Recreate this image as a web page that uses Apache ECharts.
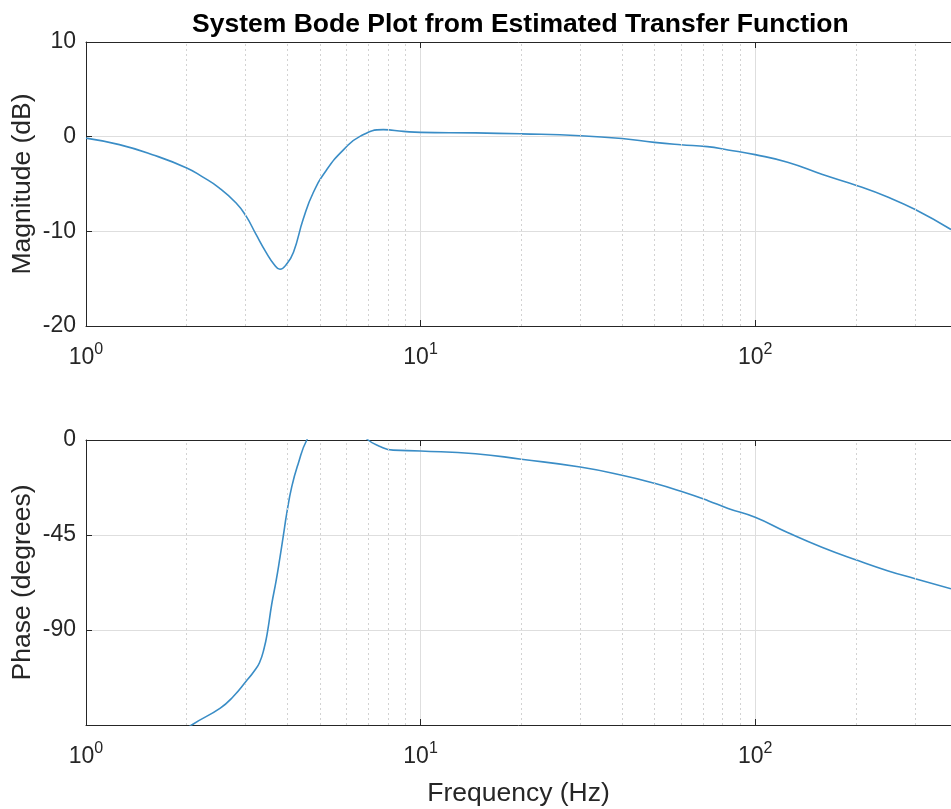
<!DOCTYPE html>
<html>
<head>
<meta charset="utf-8">
<script src="https://cdn.jsdelivr.net/npm/echarts@6/dist/echarts.min.js"></script>
<style>
  html, body { margin: 0; padding: 0; background: #fff; overflow: hidden; }
  #main { width: 951px; height: 809px; }
</style>
</head>
<body>
<div id="main"></div>
<script>
// magnitude response (Hz, dB)
var magFreq = [1, 1.258, 1.58, 2.0, 2.23, 2.5, 2.81, 3.01, 3.22, 3.45, 3.65, 3.8, 3.97, 4.17, 4.46, 4.78, 5.24, 5.88, 6.59, 7.74, 8.89, 10, 14.6, 20, 30, 40, 50, 60, 72, 83, 100, 125, 159, 203, 250, 301, 385];
var magDb = [-0.15, -0.84, -1.9, -3.3, -4.25, -5.4, -7.0, -8.4, -10.3, -12.2, -13.5, -14, -13.5, -12.2, -8.7, -5.9, -3.5, -1.4, 0.03, 0.74, 0.56, 0.45, 0.4, 0.3, 0.1, -0.2, -0.6, -0.85, -1.05, -1.4, -1.9, -2.7, -4.0, -5.2, -6.4, -7.7, -9.8];

// phase response (Hz, degrees)
var phaseFreq = [1.85, 2.07, 2.52, 2.76, 3.01, 3.18, 3.3, 3.41, 3.49, 3.59, 3.7, 3.8, 3.89, 3.98, 4.12, 4.31, 4.57, 5.0, 5.6, 6.3, 6.97, 7.5, 8.28, 10, 14.6, 20, 30, 40, 50, 60, 72, 83, 100, 125, 159, 203, 250, 301, 385];
var phaseDeg = [-141, -135, -127, -121.4, -114.3, -109.5, -105.5, -98.4, -90.5, -77.8, -66.7, -55.6, -45.2, -34.9, -22.2, -11.1, 0, 9, 12, 7, 0, -2.8, -4.8, -5.2, -6.5, -9.1, -12.8, -16.7, -20.5, -24.3, -28.6, -32.4, -36.6, -43.8, -50.9, -57.1, -62, -65.7, -70.5];

// minor log grid positions
var minorFreqs = [2, 3, 4, 5, 6, 7, 8, 9, 20, 30, 40, 50, 60, 70, 80, 90, 200, 300];

var magTicks = [-20, 10, 10];      // min, max, step
var phaseTicks = [-135, 0, 45];

var fontFam = "'Liberation Sans', Arial, Helvetica, sans-serif";
var txtColor = '#262626';
var lineColor = '#3a8dc6';

function pairs(xs, ys) {
    var out = [];
    for (var i = 0; i < xs.length; i++) out.push([xs[i], ys[i]]);
    return out;
}

function xAxisCfg(idx, withName) {
    var ax = {
        type: 'log',
        logBase: 10,
        gridIndex: idx,
        position: 'bottom',
        min: 1,
        max: 385,
        axisLine: { show: true, onZero: false, lineStyle: { color: txtColor, width: 1 } },
        axisTick: { show: true, inside: true, length: 6, lineStyle: { color: txtColor } },
        splitLine: { show: true, lineStyle: { color: '#dedede', width: 1 } },
        showMaxLabel: false,
        axisLabel: {
            margin: 16,
            color: txtColor,
            fontFamily: fontFam,
            formatter: function (v) {
                var e = Math.log10(v);
                if (Math.abs(e - Math.round(e)) > 1e-6) return '';
                return '{b|10}{e|' + Math.round(e) + '}';
            },
            rich: {
                b: { fontSize: 23, fontFamily: fontFam, color: txtColor },
                e: { fontSize: 16, fontFamily: fontFam, color: txtColor, padding: [0, 0, 16, 0] }
            }
        }
    };
    if (withName) {
        ax.name = 'Frequency (Hz)';
        ax.nameLocation = 'middle';
        ax.nameGap = 55;
        ax.nameTextStyle = { fontSize: 26.5, fontFamily: fontFam, color: txtColor };
    }
    return ax;
}

// box edge on top of each plot
function topAxisCfg(idx) {
    return {
        type: 'log',
        logBase: 10,
        gridIndex: idx,
        position: 'top',
        min: 1,
        max: 385,
        axisLine: { show: true, onZero: false, lineStyle: { color: txtColor, width: 1 } },
        axisTick: { show: true, inside: true, length: 6, lineStyle: { color: txtColor } },
        axisLabel: { show: false },
        splitLine: { show: false }
    };
}

function yAxisCfg(idx, ticks, name, hideMin) {
    return {
        type: 'value',
        gridIndex: idx,
        min: ticks[0],
        max: ticks[1],
        interval: ticks[2],
        name: name,
        nameLocation: 'middle',
        nameGap: 50,
        nameMoveOverlap: false,
        nameTextStyle: { fontSize: 26.5, fontFamily: fontFam, color: txtColor },
        axisLine: { show: true, onZero: false, lineStyle: { color: txtColor, width: 1 } },
        axisTick: { show: true, inside: true, length: 6, lineStyle: { color: txtColor } },
        splitLine: { show: true, lineStyle: { color: '#dedede', width: 1 } },
        axisLabel: {
            margin: 10,
            fontSize: 23,
            fontFamily: fontFam,
            color: txtColor,
            formatter: function (v) {
                if (hideMin && v === ticks[0]) return '';
                return String(v);
            }
        }
    };
}

function minorGrid(idx) {
    return {
        type: 'line',
        xAxisIndex: idx,
        yAxisIndex: idx,
        data: [],
        silent: true,
        markLine: {
            silent: true,
            symbol: 'none',
            animation: false,
            label: { show: false },
            lineStyle: { color: '#d2d2d2', type: [2, 3], width: 1 },
            data: minorFreqs.map(function (f) { return { xAxis: f }; })
        }
    };
}

var chart = echarts.init(document.getElementById('main'));

var option = {
    animation: false,
    backgroundColor: '#fff',
    title: {
        text: 'System Bode Plot from Estimated Transfer Function',
        left: 187,
        top: 6,
        textStyle: { fontSize: 26.5, fontWeight: 'bold', fontFamily: fontFam, color: '#000' }
    },
    grid: [
        { left: 86, right: 0, top: 42, height: 284, outerBoundsMode: 'none', containLabel: false },
        { left: 86, right: 0, top: 440, height: 285, outerBoundsMode: 'none', containLabel: false }
    ],
    xAxis: [xAxisCfg(0, false), xAxisCfg(1, true), topAxisCfg(0), topAxisCfg(1)],
    yAxis: [
        yAxisCfg(0, magTicks, 'Magnitude (dB)', false),
        yAxisCfg(1, phaseTicks, 'Phase (degrees)', true)
    ],
    series: [
        minorGrid(0),
        minorGrid(1),
        {
            name: 'Magnitude',
            type: 'line',
            xAxisIndex: 0,
            yAxisIndex: 0,
            data: pairs(magFreq, magDb),
            smooth: 0.5,
            showSymbol: false,
            clip: true,
            lineStyle: { color: lineColor, width: 1.6 }
        },
        {
            name: 'Phase',
            type: 'line',
            xAxisIndex: 1,
            yAxisIndex: 1,
            data: pairs(phaseFreq, phaseDeg),
            smooth: 0.5,
            showSymbol: false,
            clip: true,
            lineStyle: { color: lineColor, width: 1.6 }
        }
    ]
};

chart.setOption(option);
</script>
</body>
</html>
